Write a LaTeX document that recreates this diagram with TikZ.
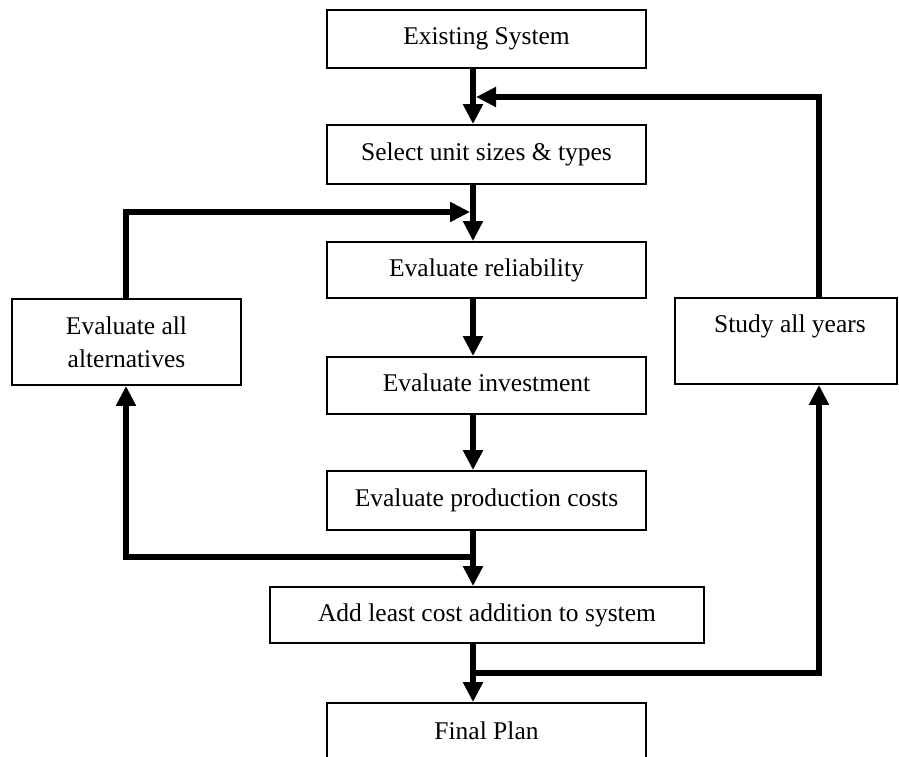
\documentclass[tikz,border=0pt]{standalone}
\usepackage{fontspec}
\setmainfont{Liberation Serif}
\usetikzlibrary{arrows.meta}
\tikzset{
  box/.style={draw, line width=1.8pt, inner sep=0pt, minimum width=319pt,
    text height=17pt, text depth=5pt, align=center,
    font=\fontsize{25.5}{33}\selectfont},
  lbl/.style={inner sep=0pt, text height=17pt, text depth=5pt,
    font=\fontsize{25.5}{33}\selectfont},
  arr/.style={line width=5.5pt, line join=miter,
    -{Triangle[length=20pt,width=19pt]}},
  ln/.style={line width=5.5pt, line join=miter}
}
\begin{document}
\begin{tikzpicture}[x=1pt,y=-1pt]
\useasboundingbox (0,0) rectangle (899,757);
\clip (0,0) rectangle (899,757);
% boxes
\node[box, minimum height=58pt] (ex)  at (486.5,39)    {Existing System};
\node[box, minimum height=59pt] (sel) at (486.5,154.5) {Select unit sizes \& types};
\node[box, minimum height=56pt] (rel) at (486.5,270)   {Evaluate reliability};
\node[box, minimum height=57pt] (inv) at (486.5,385.5) {Evaluate investment};
\node[box, minimum height=59pt] (pro) at (486.5,500.5) {Evaluate production costs};
\node[box, minimum height=56pt, minimum width=434pt] (add) at (487,615) {Add least cost addition to system};
\node[box, minimum height=60pt] (fin) at (486.5,733) {Final Plan};
\node[box, minimum height=86pt, minimum width=229pt, text height=, text depth=] (alt) at (126.5,342) {Evaluate all\\alternatives};
\node[box, minimum height=86pt, minimum width=222pt] (study) at (786,341) {};
\node[lbl] (studyt) at (790,326) {Study all years};
% helper coordinates
\coordinate (ax) at (473,0);
\coordinate (rtop) at (819,97);
\coordinate (rbot) at (819,673);
\coordinate (ltop) at (126,212);
\coordinate (lbot) at (126,557);
\coordinate (tipR) at (476,97);
\coordinate (tipL) at (470,212);
% main flow
\draw[arr] ([yshift=1pt]ex.south -| ax) -- (sel.north -| ax);
\draw[arr] ([yshift=1pt]sel.south -| ax) -- (rel.north -| ax);
\draw[arr] ([yshift=1pt]rel.south -| ax) -- (inv.north -| ax);
\draw[arr] ([yshift=1pt]inv.south -| ax) -- (pro.north -| ax);
\draw[arr] ([yshift=1pt]pro.south -| ax) -- (add.north -| ax);
\draw[arr] ([yshift=1pt]add.south -| ax) -- (fin.north -| ax);
% feedback loops
\draw[arr] (alt.north -| ltop) -- (ltop) -- (tipL);
\draw[arr] (study.north -| rtop) -- (rtop) -- (tipR);
\draw[arr] ([xshift=2.75pt]ax |- lbot) -- (lbot) -- (alt.south -| lbot);
\draw[arr] ([xshift=-2.75pt]ax |- rbot) -- (rbot) -- (study.south -| rbot);
\end{tikzpicture}
\end{document}
